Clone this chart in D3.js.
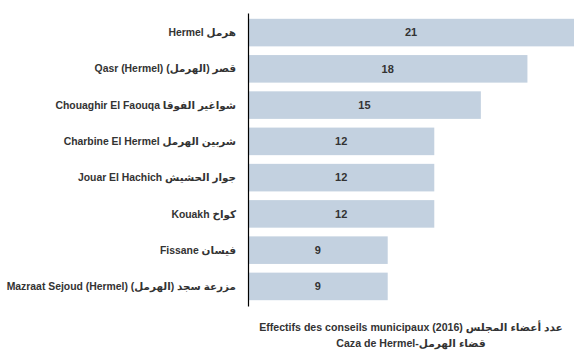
<!DOCTYPE html>
<html>
<head>
<meta charset="utf-8">
<script src="https://cdn.jsdelivr.net/npm/d3@7"></script>
<style>
    body { margin: 0; background: #fff; }
    text { font-family: "Liberation Sans", "DejaVu Sans", sans-serif; font-weight: bold; fill: #333; }
</style>
</head>
<body>
<svg id="chart"></svg>
<script>
// communes of Caza de Hermel and size of their municipal council (2016)
const communes = [
    "Hermel هرمل",
    "Qasr (Hermel) قصر (الهرمل)\u200F",
    "Chouaghir El Faouqa شواغير الفوقا",
    "Charbine El Hermel شربين الهرمل",
    "Jouar El Hachich جوار الحشيش",
    "Kouakh كواخ",
    "Fissane فيسان",
    "Mazraat Sejoud (Hermel) مزرعة سجد (الهرمل)\u200F"
];
const members = [21, 18, 15, 12, 12, 12, 9, 9];
const titleLines = [
    "Effectifs des conseils municipaux (2016) عدد أعضاء المجلس",
    "Caza de Hermel-قضاء الهرمل"
];

const width = 575, height = 353;
const margin = {top: 13, right: 1, bottom: 47, left: 248};

let svg = d3.select("#chart")
    .attr("width", width)
    .attr("height", height);

let x = d3.scaleLinear()
    .domain([0, d3.max(members)])
    .range([margin.left, width - margin.right]);

let y = d3.scaleBand()
    .domain(communes)
    .range([margin.top, height - margin.bottom])
    .paddingInner(0.24)
    .paddingOuter(0.16);

let rows = svg.append("g")
    .selectAll("g")
    .data(communes)
    .enter().append("g");

rows.append("rect")
    .attr("x", x(0) + 1)
    .attr("y", d => y(d))
    .attr("width", (d, i) => x(members[i]) - x(0) - 1)
    .attr("height", y.bandwidth())
    .attr("fill", "#c3d1e0");

rows.append("text")
    .attr("x", (d, i) => (x(0) + x(members[i])) / 2)
    .attr("y", d => y(d) + y.bandwidth() / 2)
    .attr("dy", "0.35em")
    .attr("text-anchor", "middle")
    .style("font-size", "11px")
    .text((d, i) => members[i]);

// category labels, right aligned next to the axis
rows.append("text")
    .attr("x", margin.left - 12)
    .attr("y", d => y(d) + y.bandwidth() / 2)
    .attr("dy", "0.35em")
    .attr("text-anchor", "end")
    .style("font-size", "10.4px")
    .text(d => d);

svg.append("g")
    .attr("transform", `translate(${margin.left},0)`)
    .call(d3.axisLeft(y).tickSize(0).tickFormat(""))
    .call(g => g.select(".domain").attr("stroke", "#000").attr("stroke-width", 1.2));

svg.append("g")
    .selectAll("text")
    .data(titleLines)
    .enter().append("text")
    .attr("x", (x.range()[0] + x.range()[1]) / 2)
    .attr("y", (d, i) => 331 + i * 16)
    .attr("text-anchor", "middle")
    .style("font-size", "10.6px")
    .text(d => d);
</script>
</body>
</html>
